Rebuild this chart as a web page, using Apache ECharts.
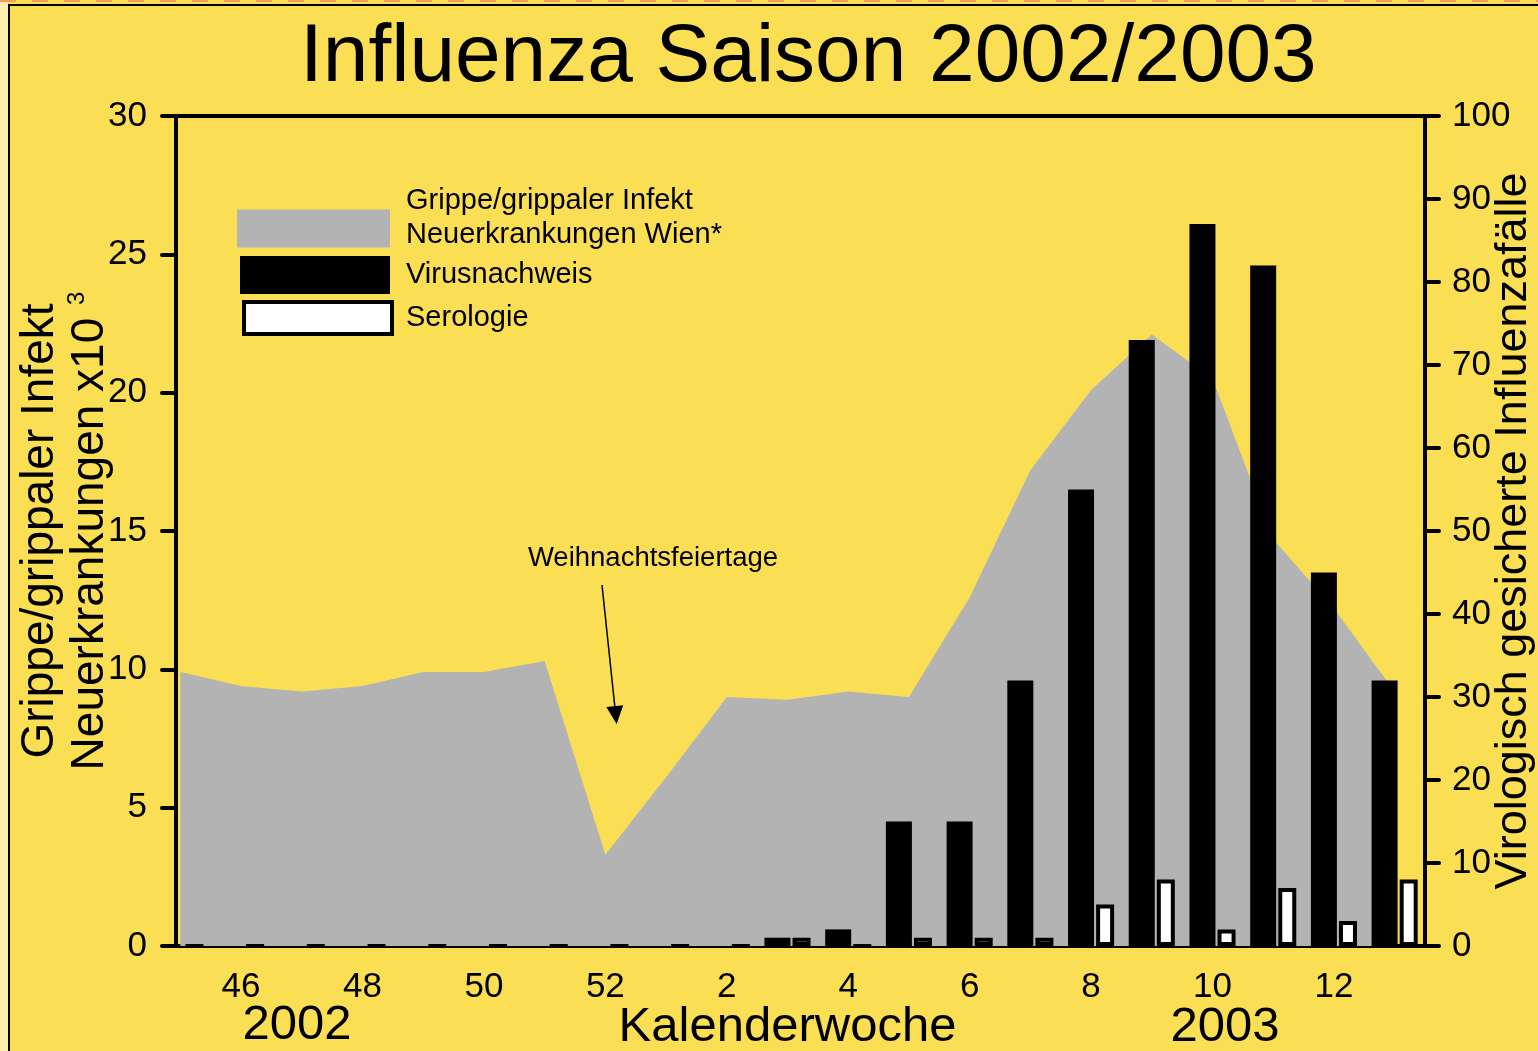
<!DOCTYPE html>
<html lang="de">
<head>
    <meta charset="UTF-8">
    <title>Influenza Saison 2002/2003</title>
    <script src="https://cdn.jsdelivr.net/npm/echarts@6/dist/echarts.min.js"></script>
    <style>
        html, body { margin: 0; padding: 0; background: #FADF55; }
        #main { width: 1538px; height: 1051px; }
    </style>
</head>
<body>
<div id="main"></div>
<script>
    // Kalenderwochen 45/2002 bis 13/2003
    var weeks = ['45', '46', '47', '48', '49', '50', '51', '52', '1', '2', '3', '4', '5', '6', '7', '8', '9', '10', '11', '12', '13'];
    // Grippe/grippaler Infekt Neuerkrankungen Wien (x1000)
    var grippeNeu = [9.9, 9.4, 9.2, 9.4, 9.9, 9.9, 10.3, 3.3, 6.1, 9.0, 8.9, 9.2, 9.0, 12.6, 17.2, 20.1, 22.1, 20.5, 14.7, 12.2, 9.2];
    // virologisch gesicherte Influenzafaelle
    var virusnachweis = [0, 0, 0, 0, 0, 0, 0, 0, 0, 0, 1, 2, 15, 15, 32, 55, 73, 87, 82, 45, 32];
    var serologie = [0, 0, 0, 0, 0, 0, 0, 0, 0, 0, 1, 0, 1, 1, 1, 5, 8, 2, 7, 3, 8];

    var FONT = "'Liberation Sans', Arial, sans-serif";
    var NAME_GRIPPE = 'Grippe/grippaler Infekt\nNeuerkrankungen Wien*';

    var myChart = echarts.init(document.getElementById('main'), null, {renderer: 'canvas'});

    var axisStyle = {
        axisLine: {show: true, lineStyle: {color: '#000', width: 4}},
        axisTick: {show: true, inside: false, length: 14, lineStyle: {color: '#000', width: 4, cap: 'round'}},
        splitLine: {show: false}
    };

    var option = {
        animation: false,
        backgroundColor: '#FADF55',
        textStyle: {fontFamily: FONT, color: '#000'},
        title: {
            text: 'Influenza Saison 2002/2003',
            left: 300,
            top: 17,
            padding: 0,
            textStyle: {fontSize: 82, fontWeight: 'normal', color: '#000', fontFamily: FONT}
        },
        legend: [
            {
                data: [{name: NAME_GRIPPE, icon: 'rect', itemStyle: {color: '#B3B3B3', borderWidth: 0}}],
                left: 237, top: 186, padding: 0, itemWidth: 153, itemHeight: 38, selectedMode: false,
                formatter: function () {
                    return '{a|Grippe/grippaler Infekt}\n{a|Neuerkrankungen Wien*}\n{b| }';
                },
                textStyle: {
                    color: '#000', fontFamily: FONT,
                    rich: {
                        a: {fontSize: 29, lineHeight: 34, color: '#000', fontFamily: FONT, padding: [0, 0, 0, 11]},
                        b: {fontSize: 10, lineHeight: 22}
                    }
                }
            },
            {
                data: [{name: 'Virusnachweis', icon: 'rect'}],
                left: 240, top: 256, padding: 0, itemWidth: 150, itemHeight: 38, selectedMode: false,
                textStyle: {fontSize: 29, color: '#000', fontFamily: FONT, padding: [3, 0, 0, 11]}
            },
            {
                data: [{name: 'Serologie', icon: 'rect', itemStyle: {color: '#fff', borderColor: '#000', borderWidth: 4}}],
                left: 242, top: 300, padding: 0, itemWidth: 148, itemHeight: 32, selectedMode: false,
                textStyle: {fontSize: 29, color: '#000', fontFamily: FONT, padding: [0, 0, 0, 9]}
            }
        ],
        grid: [
            {
                left: 176, top: 116, width: 1249, height: 830, outerBoundsMode: 'none', containLabel: false,
                show: true, borderColor: '#000', borderWidth: 4, backgroundColor: 'transparent'
            },
            {left: 150, top: 116, width: 1275, height: 830, outerBoundsMode: 'none', containLabel: false}
        ],
        xAxis: [
            {gridIndex: 0, type: 'value', min: 0, max: 1, show: false},
            {
                gridIndex: 1, type: 'category', data: weeks, boundaryGap: true,
                axisLine: {show: false}, axisTick: {show: false}, splitLine: {show: false},
                axisLabel: {
                    interval: function (index) { return index % 2 === 1; },
                    fontSize: 35, color: '#000', margin: 24, fontFamily: FONT
                },
                name: 'Kalenderwoche', nameLocation: 'middle', nameGap: 57, nameMoveOverlap: false,
                nameTextStyle: {fontSize: 49, color: '#000', fontFamily: FONT}
            }
        ],
        yAxis: [
            Object.assign({
                gridIndex: 0, type: 'value', position: 'left', min: 0, max: 30, interval: 5, z: 5,
                axisLabel: {fontSize: 35, color: '#000', margin: 29, fontFamily: FONT},
                name: '{a|Grippe/grippaler Infekt}\n{a|Neuerkrankungen x10 }{s|3}',
                nameLocation: 'middle', nameGap: 61, nameMoveOverlap: false,
                nameTextStyle: {
                    rich: {
                        a: {fontSize: 46, lineHeight: 50, color: '#000', fontFamily: FONT},
                        s: {fontSize: 24, lineHeight: 50, color: '#000', fontFamily: FONT, verticalAlign: 'top'}
                    }
                }
            }, axisStyle),
            Object.assign({
                gridIndex: 0, type: 'value', position: 'right', min: 0, max: 100, interval: 10, z: 5,
                axisLabel: {fontSize: 35, color: '#000', margin: 27, fontFamily: FONT},
                name: 'Virologisch gesicherte Influenzafälle',
                nameLocation: 'middle', nameGap: 66, nameMoveOverlap: false,
                nameTextStyle: {fontSize: 45, color: '#000', fontFamily: FONT}
            }, axisStyle),
            {gridIndex: 1, type: 'value', min: 0, max: 30, show: false},
            {gridIndex: 1, type: 'value', min: 0, max: 100, show: false}
        ],
        series: [
            {
                name: NAME_GRIPPE,
                type: 'line',
                xAxisIndex: 1,
                yAxisIndex: 2,
                data: grippeNeu,
                symbol: 'none',
                z: 1,
                itemStyle: {color: '#B3B3B3'},
                lineStyle: {width: 0, color: '#B3B3B3'},
                areaStyle: {color: '#B3B3B3', opacity: 1},
                markLine: {
                    silent: true,
                    symbol: ['none', 'triangle'],
                    symbolSize: [17, 18],
                    lineStyle: {color: '#000', width: 1.5, type: 'solid'},
                    label: {show: false},
                    data: [[{x: 602, y: 585}, {x: 615.7, y: 715}]]
                }
            },
            {
                name: 'Virusnachweis',
                type: 'bar',
                xAxisIndex: 1,
                yAxisIndex: 3,
                data: virusnachweis,
                barWidth: 26,
                barGap: '8%',
                z: 3,
                itemStyle: {color: '#000'}
            },
            {
                name: 'Serologie',
                type: 'bar',
                xAxisIndex: 1,
                yAxisIndex: 3,
                data: serologie,
                barWidth: 18,
                z: 4,
                itemStyle: {color: '#fff', borderColor: '#000', borderWidth: 4}
            }
        ],
        graphic: [
            {type: 'rect', silent: true, shape: {x: 0, y: 0, width: 8, height: 1051}, style: {fill: '#FCEFAE'}},
            {type: 'line', silent: true, shape: {x1: 0, y1: 1, x2: 1538, y2: 1}, style: {stroke: '#F5A05A', lineWidth: 2, lineDash: [16, 16]}},
            {type: 'rect', silent: true, shape: {x: 9, y: 5, width: 1540, height: 1060}, style: {fill: 'none', stroke: '#000', lineWidth: 2}},
            {type: 'text', silent: true, x: 297, y: 1025, style: {text: '2002', font: "49px " + FONT, fill: '#000', align: 'center', verticalAlign: 'middle'}},
            {type: 'text', silent: true, x: 1225, y: 1027, style: {text: '2003', font: "49px " + FONT, fill: '#000', align: 'center', verticalAlign: 'middle'}},
            {type: 'text', silent: true, x: 653, y: 558, style: {text: 'Weihnachtsfeiertage', font: "27.5px " + FONT, fill: '#000', align: 'center', verticalAlign: 'middle'}}
        ]
    };

    myChart.setOption(option);
</script>
</body>
</html>
